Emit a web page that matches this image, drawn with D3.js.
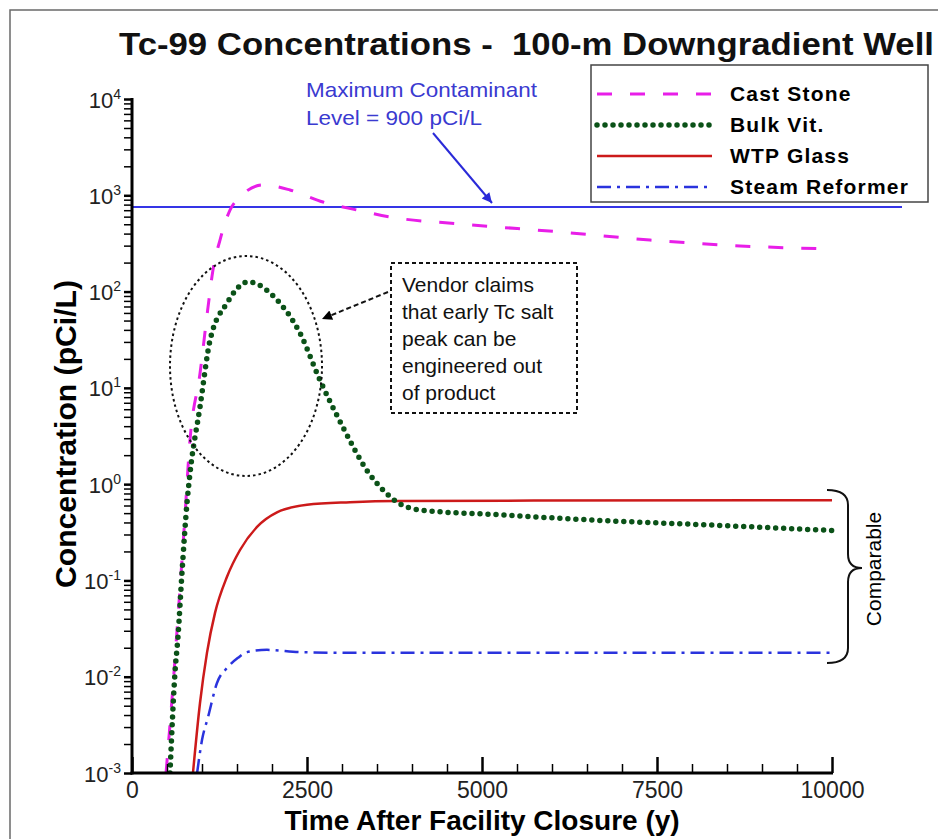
<!DOCTYPE html>
<html>
<head>
<meta charset="utf-8">
<script src="https://cdn.jsdelivr.net/npm/d3@7"></script>
<style>
  body { margin: 0; background: #fff; }
  svg { display: block; font-family: "Liberation Sans", Arial, sans-serif; }
</style>
</head>
<body>
<div id="chart"></div>
<script>
// values, [years after closure, pCi/L]
var castStone = [[486, 0.001], [571, 0.0058], [657, 0.042], [743, 0.33], [829, 2.9], [971, 14],
  [1086, 69], [1157, 168], [1257, 343], [1400, 703], [1543, 960], [1871, 1280], [2257, 1135],
  [2729, 851], [3214, 703], [3686, 595], [4686, 504], [6114, 416], [7400, 343], [8686, 298], [10000, 277]];
var bulkVit = [[543, 0.001], [614, 0.011], [657, 0.026], [714, 0.12], [786, 0.64], [829, 1.3],
  [971, 6.3], [1114, 31], [1357, 76], [1657, 126], [2071, 82], [2400, 37], [2686, 12], [3014, 3.9],
  [3371, 1.34], [3586, 0.87], [3786, 0.65], [4114, 0.54], [5257, 0.48], [6686, 0.42], [8114, 0.38], [10000, 0.33]];
var wtpGlass = [[871, 0.001], [971, 0.0053], [1071, 0.0177], [1186, 0.046], [1357, 0.109],
  [1543, 0.207], [1786, 0.36], [2071, 0.51], [2500, 0.61], [3114, 0.65], [3786, 0.67], [10000, 0.68]];
var steamReformer = [[930, 0.001], [1000, 0.0022], [1086, 0.0038], [1214, 0.0086], [1371, 0.0126],
  [1514, 0.0157], [1643, 0.018], [1929, 0.019], [2400, 0.018], [3114, 0.0177], [10000, 0.0177]];

var seriesNames = ["Cast Stone", "Bulk Vit.", "WTP Glass", "Steam Reformer"];
var xTicks = [0, 2500, 5000, 7500, 10000];
var yTicks = [1e-3, 1e-2, 1e-1, 1, 10, 100, 1000, 10000];
var mclLevel = 755;           // where the MCL line sits on the plot
var mclSpan = [0, 11000];     // it runs past the end of the axis
var mclText = ["Maximum Contaminant", "Level = 900 pCi/L"];
var noteText = ["Vendor claims", "that early Tc salt", "peak can be", "engineered out", "of product"];

(function () {
  var width = 938, height = 839;

  var styles = [
    { data: castStone, color: "#e81ee8", width: 3, dash: "15,18", cap: "butt" },
    { data: bulkVit, color: "#0b5218", width: 5.5, dash: "0,8", cap: "round" },
    { data: wtpGlass, color: "#cc1a1a", width: 2.5, dash: null, cap: "butt" },
    { data: steamReformer, color: "#2a33dd", width: 2.5, dash: "14,6,3,6", cap: "butt" }
  ];
  var drawOrder = [0, 2, 3, 1];

  var svg = d3.select("#chart").append("svg")
    .attr("width", width)
    .attr("height", height);

  var defs = svg.append("defs");
  defs.append("clipPath").attr("id", "plotclip")
    .append("rect").attr("x", 132).attr("y", 95).attr("width", 710).attr("height", 679);
  defs.append("marker").attr("id", "bluehead")
    .attr("viewBox", "0 0 10 10").attr("refX", 10).attr("refY", 5)
    .attr("markerWidth", 14).attr("markerHeight", 10).attr("markerUnits", "userSpaceOnUse")
    .attr("orient", "auto")
    .append("path").attr("d", "M0,0L10,5L0,10Z").attr("fill", "#2a2ad8");
  defs.append("marker").attr("id", "blackhead")
    .attr("viewBox", "0 0 10 10").attr("refX", 10).attr("refY", 5)
    .attr("markerWidth", 13).attr("markerHeight", 10).attr("markerUnits", "userSpaceOnUse")
    .attr("orient", "auto")
    .append("path").attr("d", "M0,0L10,5L0,10Z").attr("fill", "#000");

  // outer frame
  svg.append("rect")
    .attr("x", 10).attr("y", 10).attr("width", 980).attr("height", 900)
    .attr("fill", "none").attr("stroke", "#6a6a6a").attr("stroke-width", 1.5);

  svg.append("text")
    .attr("x", 119).attr("y", 55)
    .attr("font-size", 31).attr("font-weight", "bold").attr("fill", "#111")
    .attr("textLength", 815).attr("lengthAdjust", "spacingAndGlyphs")
    .text("Tc-99 Concentrations -\u00a0 100-m Downgradient Well");

  var x = d3.scaleLinear().domain([0, 10000]).range([132, 832]);
  var y = d3.scaleLog().domain([1e-3, 1e4]).range([773, 99]);

  // MCL
  svg.append("line")
    .attr("x1", x(mclSpan[0])).attr("x2", x(mclSpan[1]))
    .attr("y1", y(mclLevel)).attr("y2", y(mclLevel))
    .attr("stroke", "#3535e6").attr("stroke-width", 2);

  var line = d3.line()
    .x(function (d) { return x(d[0]); })
    .y(function (d) { return y(d[1]); })
    .curve(d3.curveMonotoneX);

  var plot = svg.append("g").attr("clip-path", "url(#plotclip)");
  drawOrder.forEach(function (i) {
    var s = styles[i];
    plot.append("path")
      .attr("d", line(s.data))
      .attr("fill", "none")
      .attr("stroke", s.color)
      .attr("stroke-width", s.width)
      .attr("stroke-dasharray", s.dash)
      .attr("stroke-linecap", s.cap)
      .attr("stroke-linejoin", "round");
  });

  // axes
  var xMinor = d3.range(0, 10001, 500).filter(function (d) { return d % 2500 != 0; });
  var yMinor = [];
  yTicks.slice(0, -1).forEach(function (p) {
    for (var m = 2; m < 10; m++) yMinor.push(p * m);
  });

  svg.append("g").attr("transform", "translate(0,773)")
    .call(d3.axisBottom(x).tickValues(xMinor).tickSize(-9).tickFormat(""))
    .call(function (g) { g.select(".domain").remove(); })
    .selectAll("line").attr("stroke-width", 1.5);

  var gx = svg.append("g").attr("transform", "translate(0,773)")
    .call(d3.axisBottom(x).tickValues(xTicks).tickSize(-16).tickPadding(9).tickFormat(d3.format("d")))
    .call(function (g) { g.select(".domain").remove(); });
  gx.selectAll("line").attr("stroke-width", 2.5);
  gx.selectAll("text").attr("font-size", 23).attr("font-family", "Liberation Sans, Arial, sans-serif").attr("fill", "#222");

  svg.append("g").attr("transform", "translate(132,0)")
    .call(d3.axisLeft(y).tickValues(yMinor).tickSize(8).tickFormat(""))
    .call(function (g) { g.select(".domain").remove(); })
    .selectAll("line").attr("stroke-width", 1.5);

  var gy = svg.append("g").attr("transform", "translate(132,0)")
    .call(d3.axisLeft(y).tickValues(yTicks).tickSize(8).tickPadding(3))
    .call(function (g) { g.select(".domain").remove(); });
  gy.selectAll("line").attr("stroke-width", 2.5);
  gy.selectAll("text")
    .attr("font-size", 22).attr("font-family", "Liberation Sans, Arial, sans-serif").attr("fill", "#222")
    .attr("dy", null).attr("y", 8)
    .each(function (d) {
      var t = d3.select(this).text("");
      t.append("tspan").text("10");
      t.append("tspan").attr("font-size", 14).attr("dy", -9).text(String(Math.round(Math.log10(d))));
    });

  svg.append("line").attr("x1", 132).attr("x2", 132).attr("y1", 98).attr("y2", 774.5)
    .attr("stroke", "#000").attr("stroke-width", 3);
  svg.append("line").attr("x1", 130.5).attr("x2", 833).attr("y1", 773).attr("y2", 773)
    .attr("stroke", "#000").attr("stroke-width", 3);

  svg.append("text")
    .attr("transform", "translate(76,434) rotate(-90)")
    .attr("text-anchor", "middle")
    .attr("font-size", 29).attr("font-weight", "bold")
    .attr("textLength", 308).attr("lengthAdjust", "spacingAndGlyphs")
    .text("Concentration (pCi/L)");

  svg.append("text")
    .attr("x", 482).attr("y", 830)
    .attr("text-anchor", "middle")
    .attr("font-size", 28).attr("font-weight", "bold")
    .text("Time After Facility Closure (y)");

  // legend
  var legend = svg.append("g");
  legend.append("rect")
    .attr("x", 591).attr("y", 65).attr("width", 337).attr("height", 137)
    .attr("fill", "#fff").attr("stroke", "#444").attr("stroke-width", 1.5);
  seriesNames.forEach(function (name, i) {
    var s = styles[i];
    var ry = 94 + i * 31;
    legend.append("line")
      .attr("x1", 597).attr("x2", 712).attr("y1", ry).attr("y2", ry)
      .attr("stroke", s.color).attr("stroke-width", s.width)
      .attr("stroke-dasharray", s.dash).attr("stroke-linecap", s.cap);
    legend.append("text")
      .attr("x", 730).attr("y", ry + 7)
      .attr("font-size", 21).attr("font-weight", "bold")
      .attr("letter-spacing", 1.2)
      .text(name);
  });

  // MCL note
  svg.selectAll(".mcl").data(mclText).enter().append("text")
    .attr("x", 306).attr("y", function (d, i) { return 97 + i * 28; })
    .attr("font-size", 21).attr("fill", "#3a3ad0")
    .attr("textLength", function (d, i) { return i == 0 ? 231 : 176; })
    .attr("lengthAdjust", "spacingAndGlyphs")
    .text(function (d) { return d; });
  svg.append("line")
    .attr("x1", 433).attr("y1", 133).attr("x2", 492).attr("y2", 203)
    .attr("stroke", "#2a2ad8").attr("stroke-width", 2)
    .attr("marker-end", "url(#bluehead)");

  // vendor note
  svg.append("ellipse")
    .attr("cx", 246).attr("cy", 366).attr("rx", 76).attr("ry", 110)
    .attr("fill", "none").attr("stroke", "#111").attr("stroke-width", 2)
    .attr("stroke-dasharray", "2.5,3");
  svg.append("rect")
    .attr("x", 391).attr("y", 263).attr("width", 186).attr("height", 150)
    .attr("fill", "none").attr("stroke", "#111").attr("stroke-width", 2)
    .attr("stroke-dasharray", "4,3");
  svg.selectAll(".note").data(noteText).enter().append("text")
    .attr("x", 402).attr("y", function (d, i) { return 292 + i * 27; })
    .attr("font-size", 21).attr("fill", "#111")
    .text(function (d) { return d; });
  svg.append("line")
    .attr("x1", 388).attr("y1", 292).attr("x2", 322).attr("y2", 319)
    .attr("stroke", "#111").attr("stroke-width", 2).attr("stroke-dasharray", "5,3")
    .attr("marker-end", "url(#blackhead)");

  // bracket
  svg.append("path")
    .attr("d", "M827,490 Q848,490 848,505 L848,554 Q848,568 862,568 Q848,568 848,582 L848,648 Q848,663 827,663")
    .attr("fill", "none").attr("stroke", "#111").attr("stroke-width", 2);
  svg.append("text")
    .attr("transform", "translate(881,569) rotate(-90)")
    .attr("text-anchor", "middle")
    .attr("font-size", 21)
    .text("Comparable");
})();
</script>
</body>
</html>
